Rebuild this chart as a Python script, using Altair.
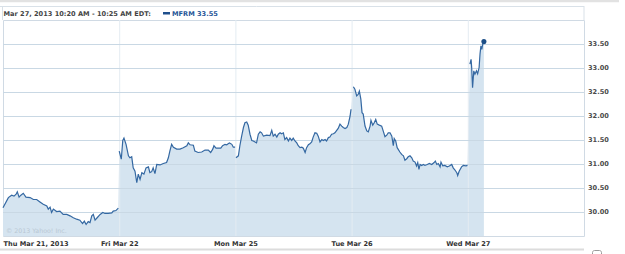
import json
import altair as alt
import pandas as pd

# ---------------- data ----------------
day_labels = ["Thu Mar 21, 2013", "Fri Mar 22", "Mon Mar 25", "Tue Mar 26", "Wed Mar 27"]

thu_minutes = [0, 18, 29, 37, 44, 48, 54, 60, 68, 77, 91, 102, 113, 124, 135, 147, 152, 158, 163, 169,
               180, 191, 202, 214, 225, 236, 247, 258, 267, 273, 279, 286, 292, 298, 303, 309, 316, 326,
               335, 342, 353, 365, 370, 379, 387]
thu_prices = [30.09, 30.30, 30.35, 30.33, 30.37, 30.42, 30.31, 30.35, 30.39, 30.31, 30.30, 30.26, 30.26,
              30.21, 30.16, 30.125, 30.06, 30.10, 29.99, 30.06, 30.01, 30.02, 29.95, 29.95, 29.92, 29.88,
              29.85, 29.83, 29.76, 29.81, 29.74, 29.80, 29.78, 29.92, 29.95, 29.83, 29.88, 29.95, 29.99,
              29.97, 29.97, 29.98, 30.02, 30.03, 30.08]

fri_minutes = [0, 7, 12, 16, 23, 31, 36, 42, 47, 53, 59, 64, 70, 76, 83, 90, 98, 103, 109, 114, 120, 126,
               137, 148, 159, 165, 170, 176, 182, 193, 204, 215, 227, 232, 238, 249, 254, 265, 277, 288,
               299, 307, 314, 318, 325, 333, 341, 347, 355, 361, 370, 378, 383, 389]
fri_prices = [31.27, 31.10, 31.49, 31.54, 31.41, 31.17, 31.13, 31.15, 30.92, 30.85, 30.61, 30.79, 30.68,
              30.82, 30.79, 30.92, 30.94, 30.82, 30.84, 30.92, 30.80, 30.99, 30.98, 31.01, 31.03, 31.13,
              31.27, 31.41, 31.35, 31.31, 31.31, 31.34, 31.38, 31.44, 31.40, 31.39, 31.27, 31.24, 31.25,
              31.29, 31.29, 31.24, 31.31, 31.38, 31.33, 31.33, 31.33, 31.38, 31.41, 31.40, 31.44, 31.41,
              31.35, 31.35]

mon_minutes = [2, 10, 15, 21, 27, 32, 38, 43, 49, 55, 60, 66, 71, 77, 83, 88, 94, 105, 116, 122, 127, 133,
               139, 144, 150, 155, 161, 166, 172, 178, 183, 189, 194, 200, 206, 211, 217, 223, 228, 234,
               239, 245, 250, 256, 261, 267, 273, 278, 284, 290, 295, 301, 306, 312, 317, 323, 329, 334,
               340, 345, 351, 357, 362, 368, 374, 379, 385, 388]
mon_prices = [31.13, 31.17, 31.38, 31.58, 31.76, 31.86, 31.875, 31.81, 31.62, 31.49, 31.48, 31.46, 31.44,
              31.62, 31.67, 31.65, 31.58, 31.60, 31.59, 31.70, 31.58, 31.62, 31.56, 31.62, 31.65, 31.63,
              31.65, 31.51, 31.55, 31.48, 31.54, 31.49, 31.54, 31.48, 31.44, 31.38, 31.34, 31.35, 31.33,
              31.24, 31.34, 31.40, 31.42, 31.46, 31.56, 31.65, 31.64, 31.58, 31.46, 31.51, 31.49, 31.51,
              31.48, 31.55, 31.56, 31.62, 31.63, 31.65, 31.70, 31.74, 31.83, 31.79, 31.76, 31.74, 31.76,
              31.83, 32.00, 32.14]

tue_minutes = [6, 11, 17, 22, 26, 31, 35, 39, 45, 51, 56, 62, 65, 71, 76, 81, 86, 93, 101, 106, 112, 118,
               123, 129, 135, 140, 143, 148, 153, 162, 168, 174, 179, 185, 190, 196, 202, 207, 213, 218,
               222, 226, 230, 235, 241, 246, 254, 261, 269, 277, 281, 286, 291, 297, 300, 306, 313, 321,
               328, 336, 341, 347, 353, 356, 361, 369, 375, 384, 389]
tue_prices = [32.61, 32.56, 32.42, 32.45, 32.52, 32.35, 32.07, 32.04, 31.79, 31.69, 31.67, 31.79, 31.91,
              31.81, 31.86, 31.93, 31.83, 31.81, 31.79, 31.69, 31.57, 31.60, 31.65, 31.65, 31.58, 31.38,
              31.53, 31.48, 31.34, 31.25, 31.20, 31.17, 31.08, 31.11, 31.15, 31.17, 31.13, 31.06, 31.04,
              30.96, 31.03, 30.89, 30.99, 30.97, 30.99, 30.97, 30.99, 31.01, 30.99, 31.03, 31.06, 30.99,
              31.01, 30.94, 31.04, 30.96, 30.97, 30.94, 30.96, 30.99, 30.92, 30.875, 30.82, 30.76, 30.85,
              30.94, 30.97, 30.96, 30.97]

wed_minutes = [7, 11, 13, 15, 16, 20, 24, 29, 33, 38, 41, 44, 47, 50, 54]
wed_prices = [33.08, 33.18, 33.01, 32.73, 32.59, 32.94, 32.87, 32.94, 32.88, 33.01, 33.29, 33.46, 33.39,
              33.49, 33.55]

y_ticks = [30.0, 30.5, 31.0, 31.5, 32.0, 32.5, 33.0, 33.5]
x_ticks = [0, 1, 2, 3, 4]
session_minutes = 390
symbol = "MFRM"
header_range = "Mar 27, 2013 10:20 AM - 10:25 AM EDT:"
copyright_text = "\u00a9 2013 Yahoo! Inc."

# ---------------- build tables ----------------
rows = []
for di, (mins, prices) in enumerate([(thu_minutes, thu_prices), (fri_minutes, fri_prices),
                                     (mon_minutes, mon_prices), (tue_minutes, tue_prices),
                                     (wed_minutes, wed_prices)]):
    for m, p in zip(mins, prices):
        rows.append({"t": di + m / session_minutes, "price": p, "day": day_labels[di]})
df = pd.DataFrame(rows)
last = df.iloc[[-1]]
ytick_df = pd.DataFrame({"v": y_ticks, "label": [f"{v:.2f}" for v in y_ticks]})

FONT = "DejaVu Sans"
FS = 6.6
LINE = "#3468a2"
FILL = "#d5e4f0"
GRID = "#c9d8e4"

xscale = alt.Scale(domain=[0, 5], nice=False, zero=False)
yscale = alt.Scale(domain=[29.5, 34.0], nice=False, zero=False)

label_js = json.dumps(day_labels)

area = alt.Chart(df).mark_area(color=FILL, opacity=1).encode(
    x=alt.X("t:Q", scale=xscale,
            axis=alt.Axis(values=x_ticks, labelExpr=f"{label_js}[datum.value]", grid=False,
                          ticks=False, domain=False, labelFont=FONT, labelFontSize=FS,
                          labelFontWeight="bold", labelColor="#333333", labelPadding=4,
                          labelFlush=True, labelOverlap=False, title=None)),
    y=alt.Y("price:Q", scale=yscale, axis=None),
    y2=alt.datum(29.5),
)

vgrid = alt.Chart(pd.DataFrame({"v": x_ticks[1:]})).mark_rule(
    color="#e4ecf2", strokeWidth=1, xOffset=0.5).encode(x=alt.X("v:Q", scale=xscale))
hgrid = alt.Chart(ytick_df).mark_rule(color=GRID, strokeWidth=1, yOffset=0.5).encode(
    y=alt.Y("v:Q", scale=yscale, axis=None))
ylabels = alt.Chart(ytick_df).mark_text(
    font=FONT, fontSize=FS, fontWeight="bold", color="#4a4a4a", align="left", baseline="middle"
).encode(y=alt.Y("v:Q", scale=yscale, axis=None), x=alt.value(585), text="label:N")

line = alt.Chart(df).mark_line(color=LINE, strokeWidth=1.2).encode(
    x=alt.X("t:Q", scale=xscale), y=alt.Y("price:Q", scale=yscale, axis=None), detail="day:N")

dot = alt.Chart(last).mark_circle(color="#1d4f87", size=26, opacity=1).encode(
    x=alt.X("t:Q", scale=xscale), y=alt.Y("price:Q", scale=yscale, axis=None))

one = pd.DataFrame({"a": [0]})

copyright_mark = alt.Chart(one).mark_text(
    text=copyright_text, font=FONT, fontSize=6.3, color="#b9c7d3", align="left", baseline="middle"
).encode(x=alt.value(3), y=alt.value(210.5))

top_bar = alt.Chart(one).mark_rule(color="#e2e2e2", strokeWidth=2.5).encode(
    x=alt.value(-3), x2=alt.value(616), y=alt.value(-19))
header_top = alt.Chart(one).mark_rule(color="#d9e1e8", strokeWidth=1).encode(
    x=alt.value(-3), x2=alt.value(581), y=alt.value(-13.5))
header_left = alt.Chart(one).mark_rule(color="#d9e1e8", strokeWidth=1).encode(
    x=alt.value(-0.5), y=alt.value(-14), y2=alt.value(0))
header_right = alt.Chart(one).mark_rule(color="#d9e1e8", strokeWidth=1).encode(
    x=alt.value(581), y=alt.value(-14), y2=alt.value(0))
bottom_bar = alt.Chart(one).mark_rule(color="#dcdcdc", strokeWidth=2).encode(
    x=alt.value(-3), x2=alt.value(581), y=alt.value(229.5))
corner_box = alt.Chart(one).mark_rect(fill="white", stroke="#9a9a9a", strokeWidth=1,
                                      cornerRadius=2).encode(
    x=alt.value(589.5), x2=alt.value(598.5), y=alt.value(230.5), y2=alt.value(240))

header_text = alt.Chart(one).mark_text(
    text=header_range, font=FONT, fontSize=FS, fontWeight="bold", color="#444444",
    align="left", baseline="middle").encode(x=alt.value(0.5), y=alt.value(-6.5))
swatch = alt.Chart(one).mark_rect(color="#1f4f8c").encode(
    x=alt.value(160), x2=alt.value(167), y=alt.value(-8), y2=alt.value(-5.5))
header_symbol = alt.Chart(one).mark_text(
    text=f"{symbol} {wed_prices[-1]:.2f}", font=FONT, fontSize=FS, fontWeight="bold",
    color="#1f5597", align="left", baseline="middle").encode(x=alt.value(169), y=alt.value(-6.5))

chart = alt.layer(
    area, vgrid, hgrid, line, dot, ylabels, copyright_mark,
    top_bar, header_top, header_left, header_right, bottom_bar, corner_box,
    header_text, swatch, header_symbol,
).properties(
    width=581, height=216,
    padding={"left": 3, "top": 20, "right": 41, "bottom": 18},
    autosize=alt.AutoSizeParams(type="none"),
    background="white",
).configure_view(stroke="#d0dae4", strokeWidth=1)

chart.save("out.html", embed_options={"renderer": "svg", "actions": False})
